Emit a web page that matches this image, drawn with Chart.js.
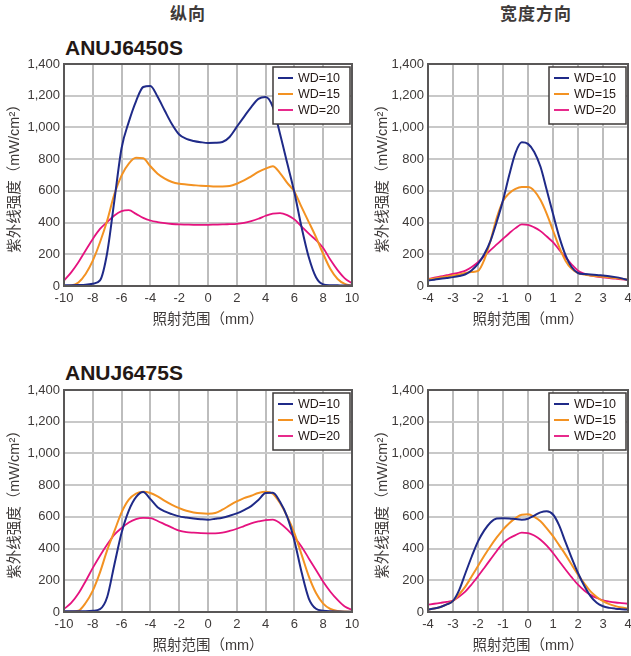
<!DOCTYPE html>
<html>
<head>
<meta charset="utf-8">
<script src="https://cdn.jsdelivr.net/npm/chart.js@4/dist/chart.umd.min.js"></script>
<style>
  body { margin: 0; background: #fff; width: 631px; height: 656px; overflow: hidden; position: relative;
         font-family: "Liberation Sans", "Noto Sans CJK SC", sans-serif; color: #3e3a39; }
  .box { position: absolute; }
  .t { position: absolute; height: 30px; line-height: 30px; white-space: nowrap; }
  .head { font-size: 17px; font-weight: bold; letter-spacing: 1px; transform: translateX(-50%); }
  .model { font-size: 21px; font-weight: bold; color: #231815; }
</style>
</head>
<body>
<div class="t head" style="left:188px;top:0px">纵向</div>
<div class="t head" style="left:536px;top:0px">宽度方向</div>
<div class="t model" style="left:65px;top:33px">ANUJ6450S</div>
<div class="t model" style="left:65px;top:358px">ANUJ6475S</div>

<div class="box" style="left:0;top:0;width:360px;height:330px"><canvas id="c1"></canvas></div>
<div class="box" style="left:364px;top:0;width:267px;height:330px"><canvas id="c2"></canvas></div>
<div class="box" style="left:0;top:326px;width:360px;height:330px"><canvas id="c3"></canvas></div>
<div class="box" style="left:364px;top:326px;width:267px;height:330px"><canvas id="c4"></canvas></div>

<script>
// 图例
const seriesNames = ["WD=10", "WD=15", "WD=20"];
const seriesColors = ["#1f2a88", "#f39222", "#e5127f"];

// 纵向: -10 .. 10 mm, 每 0.5
const longX = [-10, -9.5, -9, -8.5, -8, -7.5, -7, -6.5, -6, -5.5, -5, -4.5, -4, -3.5, -3, -2.5, -2, -1.5, -1, -0.5,
  0, 0.5, 1, 1.5, 2, 2.5, 3, 3.5, 4, 4.5, 5, 5.5, 6, 6.5, 7, 7.5, 8, 8.5, 9, 9.5, 10];

// 宽度方向: -4 .. 4 mm, 每 0.25
const wideX = [-4, -3.75, -3.5, -3.25, -3, -2.75, -2.5, -2.25, -2, -1.75, -1.5, -1.25, -1, -0.75, -0.5, -0.25,
  0, 0.25, 0.5, 0.75, 1, 1.25, 1.5, 1.75, 2, 2.25, 2.5, 2.75, 3, 3.25, 3.5, 3.75, 4];

// ANUJ6450S 纵向
const a50LongWD10 = [5, 5, 6, 8, 14, 35, 210, 540, 870, 1035, 1165, 1255, 1262, 1193, 1105, 1020, 955, 928, 915, 907,
  902, 903, 908, 940, 1004, 1067, 1128, 1180, 1192, 1130, 960, 775, 590, 370, 181, 55, 10, 5, 4, 3, 3];
const a50LongWD15 = [0, 3, 22, 76, 160, 276, 413, 580, 698, 772, 808, 805, 755, 708, 677, 656, 645, 640, 636, 632,
  630, 628, 627, 630, 645, 666, 692, 719, 740, 755, 712, 650, 595, 497, 403, 308, 202, 107, 44, 13, 2];
const a50LongWD20 = [34, 86, 150, 224, 297, 360, 403, 445, 472, 478, 455, 430, 413, 403, 396, 391, 388, 387, 386, 386,
  386, 387, 388, 390, 392, 398, 409, 424, 443, 457, 460, 447, 420, 375, 330, 290, 240, 165, 100, 48, 17];

// ANUJ6450S 宽度方向
const a50WideWD10 = [34, 40, 46, 51, 56, 63, 74, 100, 140, 200, 285, 405, 540, 700, 840, 906,
  896, 845, 752, 605, 455, 310, 195, 118, 82, 75, 73, 70, 66, 62, 56, 48, 38];
const a50WideWD15 = [42, 48, 54, 60, 66, 73, 82, 88, 95, 165, 285, 430, 535, 585, 612, 624,
  624, 600, 542, 455, 350, 245, 160, 108, 82, 72, 66, 62, 58, 54, 50, 45, 40];
const a50WideWD20 = [44, 52, 60, 68, 76, 85, 97, 120, 150, 188, 226, 262, 298, 333, 365, 388,
  386, 370, 346, 312, 276, 228, 181, 135, 97, 78, 66, 60, 55, 50, 46, 42, 38];

// ANUJ6475S 纵向
const a75LongWD10 = [4, 4, 4, 5, 8, 18, 95, 300, 500, 640, 725, 757, 712, 661, 634, 617, 603, 596, 590, 585,
  582, 588, 595, 607, 622, 643, 668, 706, 750, 752, 695, 600, 450, 250, 85, 20, 8, 4, 3, 2, 2];
const a75LongWD15 = [2, 3, 8, 57, 135, 250, 390, 510, 628, 708, 746, 758, 750, 729, 701, 676, 655, 638, 628, 622,
  620, 624, 645, 672, 697, 718, 733, 750, 758, 746, 687, 603, 498, 362, 225, 120, 53, 19, 6, 3, 2];
const a75LongWD20 = [19, 57, 116, 194, 278, 355, 425, 488, 530, 565, 586, 594, 592, 574, 553, 532, 513, 504, 500, 497,
  496, 496, 500, 511, 525, 542, 559, 571, 580, 582, 560, 521, 471, 412, 338, 265, 191, 128, 76, 34, 13];

// ANUJ6475S 宽度方向
const a75WideWD10 = [15, 22, 32, 48, 70, 140, 246, 350, 445, 515, 565, 590, 592, 590, 586, 582,
  588, 608, 628, 635, 615, 545, 440, 340, 246, 165, 100, 58, 36, 26, 21, 18, 15];
const a75WideWD15 = [15, 22, 32, 48, 70, 112, 162, 225, 290, 355, 415, 470, 520, 560, 592, 614,
  616, 600, 572, 528, 478, 420, 362, 298, 236, 180, 130, 95, 68, 50, 37, 28, 21];
const a75WideWD20 = [46, 52, 58, 64, 72, 98, 130, 175, 225, 278, 332, 385, 435, 465, 485, 500,
  498, 482, 456, 418, 372, 320, 268, 218, 172, 136, 108, 88, 74, 66, 60, 56, 52];

const FONT = "'Liberation Sans', 'Noto Sans CJK SC', sans-serif";
const TEXT = "#3e3a39";

// 外框 + 图例
const frameLegend = {
  id: "frameLegend",
  afterDraw(chart) {
    const { ctx, chartArea: a } = chart;
    ctx.save();
    ctx.strokeStyle = "#595757";
    ctx.lineWidth = 2;
    ctx.strokeRect(a.left, a.top, a.right - a.left, a.bottom - a.top);

    const w = 77, h = 57;
    const x = a.right - 2 - w, y = a.top + 3;
    ctx.fillStyle = "#fff";
    ctx.fillRect(x, y, w, h);
    ctx.strokeStyle = "#3e3a39";
    ctx.lineWidth = 1.5;
    ctx.strokeRect(x, y, w, h);
    ctx.font = "12.5px " + FONT;
    ctx.textBaseline = "middle";
    chart.data.datasets.forEach((ds, i) => {
      const ry = y + 11 + i * 16;
      ctx.strokeStyle = ds.borderColor;
      ctx.lineWidth = ds.borderWidth;
      ctx.beginPath();
      ctx.moveTo(x + 5, ry);
      ctx.lineTo(x + 20, ry);
      ctx.stroke();
      ctx.fillStyle = "#231815";
      ctx.fillText(ds.label, x + 25, ry + 0.5);
    });
    ctx.restore();
  }
};

function makeChart(id, xs, ys, xMin, xMax, xStep, yTitlePad, padRight) {
  return new Chart(document.getElementById(id), {
    type: "line",
    data: {
      datasets: ys.map((arr, i) => ({
        label: seriesNames[i],
        data: xs.map((x, j) => ({ x: x, y: arr[j] })),
        borderColor: seriesColors[i],
        borderWidth: i === 2 ? 1.8 : 2,
        pointRadius: 0,
        cubicInterpolationMode: "monotone",
        fill: false
      }))
    },
    options: {
      responsive: true,
      maintainAspectRatio: false,
      animation: false,
      devicePixelRatio: 1,
      layout: { padding: { top: 64, right: padRight, left: 0, bottom: 0 } },
      plugins: { legend: { display: false }, tooltip: { enabled: false } },
      scales: {
        x: {
          type: "linear", min: xMin, max: xMax,
          afterFit(s) { s.height = 44; s.paddingLeft = 0; s.paddingRight = 0; },
          border: { display: false },
          grid: { color: "#bdbdbd", lineWidth: 2, drawTicks: false },
          ticks: { stepSize: xStep, padding: 5, color: TEXT, font: { family: FONT, size: 13 }, maxRotation: 0 },
          title: { display: true, text: "照射范围（mm）", color: TEXT,
                   font: { family: FONT, size: 14.5 }, padding: { top: 0, bottom: 1 } }
        },
        y: {
          min: 0, max: 1400,
          afterFit(s) { s.width = 64; s.paddingTop = 0; s.paddingBottom = 0; },
          border: { display: false },
          grid: { color: "#c8c8c8", lineWidth: 2, drawTicks: false },
          ticks: {
            stepSize: 100, padding: 4, color: TEXT, font: { family: FONT, size: 13 },
            callback: v => (v % 200 === 0 ? v.toLocaleString("en-US") : "")
          },
          title: { display: true, text: "紫外线强度（mW/cm²）", color: TEXT,
                   font: { family: FONT, size: 14.5 }, padding: { top: yTitlePad, bottom: 0 } }
        }
      }
    },
    plugins: [frameLegend]
  });
}

makeChart("c1", longX, [a50LongWD10, a50LongWD15, a50LongWD20], -10, 10, 2, 6, 8);
makeChart("c2", wideX, [a50WideWD10, a50WideWD15, a50WideWD20], -4, 4, 1, 10, 3);
makeChart("c3", longX, [a75LongWD10, a75LongWD15, a75LongWD20], -10, 10, 2, 6, 8);
makeChart("c4", wideX, [a75WideWD10, a75WideWD15, a75WideWD20], -4, 4, 1, 10, 3);
</script>
</body>
</html>
